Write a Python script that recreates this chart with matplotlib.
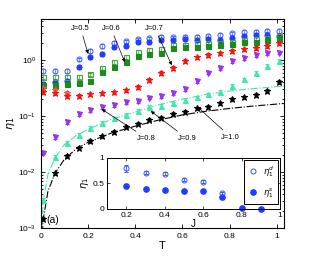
import matplotlib
matplotlib.use("Agg")
import matplotlib.pyplot as plt
import numpy as np

plt.rcParams['font.family'] = ['Liberation Sans', 'DejaVu Sans']
plt.rcParams['mathtext.fontset'] = 'dejavusans'

# temperatures
T = [0.01, 0.06, 0.11, 0.16, 0.21, 0.26, 0.31, 0.36, 0.41, 0.46, 0.51,
     0.56, 0.61, 0.66, 0.71, 0.76, 0.81, 0.86, 0.91, 0.96, 1.01]

# J=0.5
blue_d = [0.64, 0.64, 0.64, 1.04, 1.45, 1.78, 2.04, 2.18, 2.34, 2.44, 2.6,
          2.54, 2.6, 2.6, 2.68, 2.8, 3.0, 3.16, 3.16, 3.36, 3.3]
blue_s = [0.38, 0.40, 0.42, 0.76, 1.12, 1.28, 1.69, 1.82, 2.07, 2.12, 2.27,
          2.27, 2.34, 2.27, 2.37, 2.30, 2.47, 2.68, 2.8, 2.8, 2.74]
# J=0.6
green_d = [0.50, 0.50, 0.50, 0.50, 0.56, 0.72, 0.92, 1.13, 1.41, 1.51, 1.57,
           1.85, 1.85, 1.99, 1.99, 2.05, 2.14, 2.32, 2.37, 2.51, 2.68]
green_s = [0.36, 0.36, 0.37, 0.39, 0.43, 0.61, 0.76, 0.93, 1.19, 1.28, 1.32,
           1.62, 1.69, 1.73, 1.80, 1.85, 1.93, 2.12, 2.12, 2.27, 2.44]
# J=0.7
T_red_d = [0.01, 0.06, 0.11]
red_d = [0.32, 0.29, 0.26]
red_s = [0.27, 0.254, 0.23, 0.23, 0.244, 0.254, 0.265, 0.29, 0.333, 0.44, 0.59,
         0.73, 0.97, 1.12, 1.23, 1.32, 1.45, 1.55, 1.66, 1.78, 2.03]
# J=0.8
purple = [0.0223, 0.0422, 0.078, 0.109, 0.128, 0.145, 0.157, 0.178, 0.185, 0.214, 0.228,
          0.257, 0.303, 0.427, 0.598, 0.711, 0.97, 1.09, 1.23, 1.33, 1.36]
# J=0.9
aqua = [0.00316, 0.0188, 0.0336, 0.0458, 0.061, 0.0766, 0.091, 0.106, 0.124, 0.148, 0.152,
        0.169, 0.195, 0.216, 0.245, 0.268, 0.343, 0.454, 0.598, 0.781, 0.968]
# J=1.0
black = [0.00145, 0.0095, 0.0193, 0.0272, 0.036, 0.0434, 0.0525, 0.0636, 0.0735, 0.0866, 0.094,
         0.1086, 0.119, 0.137, 0.1466, 0.1686, 0.1988, 0.216, 0.24, 0.279, 0.41]
rel_err = 0.07

# dash-dot curves
T_fit = [0.004, 0.01, 0.03, 0.06, 0.1, 0.15, 0.2, 0.3, 0.4, 0.5, 0.6, 0.7, 0.8, 0.9, 1.0, 1.03]
fit_aqua = [0.0011, 0.003, 0.009, 0.018, 0.031, 0.045, 0.058, 0.088, 0.118, 0.16, 0.2,
            0.243, 0.28, 0.31, 0.335, 0.343]
fit_black = [0.0005, 0.0014, 0.0045, 0.0095, 0.017, 0.026, 0.034, 0.05, 0.066, 0.085, 0.105,
             0.122, 0.137, 0.151, 0.164, 0.168]

# inset
J_d = [0.2, 0.3, 0.4, 0.5, 0.6, 0.7]
eta_d = [0.80, 0.71, 0.69, 0.57, 0.53, 0.31]
eta_d_err = [0.07, 0.03, 0.03, 0.03, 0.03, 0.03]
J_s = [0.2, 0.3, 0.4, 0.5, 0.6, 0.7, 0.8, 0.9]
eta_s = [0.45, 0.39, 0.37, 0.35, 0.35, 0.23, 0.01, 0.0]

fig = plt.figure(figsize=(3.14, 2.58), dpi=100)
ax = fig.add_axes([0.13, 0.116, 0.774, 0.81])

ms = 3.6
def eb(x, y, color, marker, filled=True, ecolor=None, size=ms):
    y = np.array(y)
    ax.errorbar(x, y, yerr=rel_err * y, fmt=marker, ms=size, color=color,
                mfc=color if filled else 'none', mec=color, mew=0.8,
                ecolor=ecolor or color, elinewidth=0.5, capsize=1.6, capthick=0.5)

ax.plot(T_fit, fit_aqua, color='#40e8b0', ls='-.', lw=0.8)
ax.plot(T_fit, fit_black, color='black', ls='-.', lw=0.8)

eb(T, blue_d, '#4a6cff', 'o', filled=False)
eb(T, blue_s, '#1f3cff', 'o')
eb(T, green_d, '#3fa83f', 's', filled=False)
eb(T, green_s, '#1a8c1a', 's')
eb(T_red_d, red_d, '#ff5050', '*', filled=False, size=4.5)
eb(T, red_s, '#ff1010', '*', size=4.5)
eb(T, purple, '#9a30f0', 'v')
eb(T, aqua, '#40e8b0', '^')
eb(T, black, 'black', '*', ecolor='#555555', size=4.5)

ax.set_yscale('log')
ax.set_xlim(0, 1.03)
ax.set_ylim(1e-3, 5.4)
ax.set_xticks([0, 0.2, 0.4, 0.6, 0.8, 1])
ax.set_xticklabels(['0', '0.2', '0.4', '0.6', '0.8', '1'])
ax.tick_params(which='both', direction='in', top=True, right=True, labelsize=6, width=0.6)
ax.tick_params(which='major', length=3)
ax.tick_params(which='minor', length=1.6)
for s in ax.spines.values():
    s.set_linewidth(0.8)
ax.set_xlabel('T', fontsize=8, labelpad=1)
ax.set_ylabel(r'$\eta_1$', fontsize=8, labelpad=1)

ap = dict(arrowstyle='-|>', color='black', lw=0.5, mutation_scale=5, shrinkA=1, shrinkB=0)
labels = [('J=0.5', (0.169, 3.7), (0.200, 1.30)),
          ('J=0.6', (0.297, 3.7), (0.356, 0.92)),
          ('J=0.7', (0.483, 3.7), (0.555, 0.81)),
          ('J=0.8', (0.449, 0.040), (0.258, 0.133)),
          ('J=0.9', (0.619, 0.040), (0.466, 0.123)),
          ('J=1.0', (0.805, 0.042), (0.665, 0.145))]
for txt, pos, head in labels:
    ax.annotate(txt, xy=head, xytext=pos, ha='center', va='center', fontsize=5.5,
                arrowprops=ap)
ax.text(0.025, 0.0014, '(a)', fontsize=7.5, ha='left', va='center')

# inset
ins = fig.add_axes([0.341, 0.19, 0.551, 0.198])
h_d = ins.errorbar(J_d, eta_d, yerr=eta_d_err, fmt='o', ms=3.6, mfc='none', mec='#3355ff',
                   mew=0.7, ecolor='#3355ff', elinewidth=0.6, capsize=1.2, clip_on=False)
h_s, = ins.plot(J_s, eta_s, 'o', ms=3.8, color='#1f3cff', clip_on=False)
ins.set_xlim(0.1, 1.0)
ins.set_ylim(0, 1)
ins.set_xticks([0.2, 0.4, 0.6, 0.8, 1])
ins.set_xticklabels(['0.2', '0.4', '0.6', '0.8', '1'])
ins.set_yticks([0, 0.5, 1])
ins.set_yticklabels(['0', '0.5', '1'])
ins.tick_params(direction='in', top=True, right=True, labelsize=6, length=2, width=0.5, pad=2)
for s in ins.spines.values():
    s.set_linewidth(0.7)
ins.set_xlabel('J', fontsize=7, labelpad=0)
ins.set_ylabel(r'$\eta_1$', fontsize=7, labelpad=1)
leg = ins.legend([h_d[0], h_s], [r'$\eta_1^d$', r'$\eta_1^s$'], loc='upper right',
                 fontsize=6, frameon=True, fancybox=False, framealpha=1,
                 edgecolor='black', handletextpad=0.6, borderpad=0.5, labelspacing=0.9,
                 handlelength=1.2, borderaxespad=0.2)
leg.get_frame().set_linewidth(0.7)

fig.savefig('out.png', dpi=100)
